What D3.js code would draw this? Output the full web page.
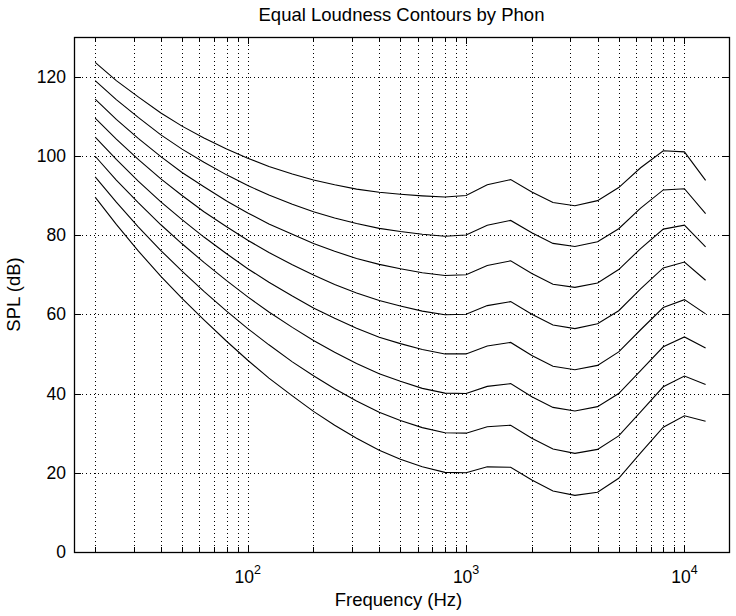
<!DOCTYPE html>
<html>
<head>
<meta charset="utf-8">
<script src="https://cdn.jsdelivr.net/npm/d3@7/dist/d3.min.js"></script>
<style>
	body{margin:0;background:#fff;}
	text{font-family:"Liberation Sans",Arial,sans-serif;fill:#000;}
</style>
</head>
<body>
<div id="chart"></div>
<script>
// ISO 226 frequencies (Hz)
var freqs = [20,25,31.5,40,50,63,80,100,125,160,200,250,315,400,500,630,800,1000,1250,1600,2000,2500,3150,4000,5000,6300,8000,10000,12500];
// SPL (dB) per phon level
var phon20 = [89.6,82.7,76.0,69.6,64.0,58.6,53.2,48.4,43.9,39.4,35.5,32.0,28.7,25.7,23.4,21.5,20.1,20.0,21.5,21.4,18.2,15.4,14.3,15.1,18.6,25.0,31.5,34.4,33.0];
var phon30 = [94.7,88.3,82.1,76.1,70.9,65.8,60.8,56.4,52.3,48.0,44.5,41.2,38.1,35.3,33.2,31.4,30.1,30.0,31.6,32.0,28.7,26.0,24.9,25.9,29.3,35.4,41.7,44.4,42.3];
var phon40 = [99.9,93.9,88.2,82.6,77.8,73.1,68.5,64.4,60.6,56.7,53.4,50.4,47.6,45.0,43.1,41.3,40.1,40.0,41.8,42.5,39.2,36.5,35.6,36.7,40.0,45.8,51.8,54.3,51.5];
var phon50 = [104.7,99.1,93.6,88.4,83.9,79.5,75.3,71.5,68.1,64.6,61.6,59.0,56.5,54.2,52.6,51.1,50.0,50.0,52.0,52.9,49.6,46.9,46.0,47.1,50.5,56.1,61.7,63.7,60.1];
var phon60 = [109.5,104.2,99.1,94.2,90.0,85.9,82.1,78.7,75.6,72.5,69.9,67.5,65.4,63.5,62.1,60.8,59.9,60.0,62.2,63.2,60.0,57.3,56.4,57.6,60.9,66.4,71.7,73.2,68.6];
var phon70 = [114.3,109.2,104.4,99.8,95.8,92.2,88.6,85.6,82.8,80.2,77.9,75.9,74.1,72.6,71.5,70.5,69.8,70.0,72.3,73.5,70.3,67.6,66.8,67.9,71.3,76.6,81.5,82.5,77.0];
var phon80 = [119.0,114.2,109.7,105.3,101.7,98.4,95.2,92.5,90.1,87.8,85.9,84.3,82.9,81.7,80.9,80.2,79.7,80.0,82.5,83.7,80.6,77.9,77.1,78.3,81.6,86.8,91.4,91.7,85.4];
var phon90 = [123.6,119.0,114.9,110.8,107.5,104.5,101.7,99.4,97.3,95.4,93.9,92.7,91.6,90.8,90.3,89.9,89.6,90.0,92.7,94.0,90.9,88.2,87.4,88.7,92.0,97.0,101.3,101.0,93.8];
var yTicks = [0,20,40,60,80,100,120];
var xMajor = [100,1000,10000];

var W = 736, H = 616;
var L = 74, R = 729, T = 37, B = 552;

var svg = d3.select("#chart").append("svg")
	.attr("width",W).attr("height",H);

var x = d3.scaleLog().domain([16,16000]).range([L,R]);
var y = d3.scaleLinear().domain([0,130]).range([B,T]);

var xMinor = x.ticks().filter(function(d){ return d >= 20; });

// grid
var grid = svg.append("g")
	.attr("stroke","#000").attr("stroke-width",1)
	.attr("stroke-dasharray","1,3").attr("shape-rendering","crispEdges");
grid.selectAll("line.vx").data(xMinor).enter().append("line")
	.attr("x1",function(d){ return Math.round(x(d))+0.5; })
	.attr("x2",function(d){ return Math.round(x(d))+0.5; })
	.attr("y1",T).attr("y2",B);
grid.selectAll("line.hy").data(yTicks.filter(function(d){ return d > 0; })).enter().append("line")
	.attr("y1",function(d){ return Math.round(y(d))+0.5; })
	.attr("y2",function(d){ return Math.round(y(d))+0.5; })
	.attr("x1",L).attr("x2",R);

// ticks (inward, all four sides)
var tk = svg.append("g").attr("stroke","#000").attr("stroke-width",1)
	.attr("shape-rendering","crispEdges");
xMinor.forEach(function(d){
	var px = Math.round(x(d))+0.5;
	var len = xMajor.indexOf(d) >= 0 ? 7 : 5;
	tk.append("line").attr("x1",px).attr("x2",px).attr("y1",B).attr("y2",B-len);
	tk.append("line").attr("x1",px).attr("x2",px).attr("y1",T).attr("y2",T+len);
});
yTicks.forEach(function(d){
	var py = Math.round(y(d))+0.5;
	tk.append("line").attr("x1",L).attr("x2",L+7).attr("y1",py).attr("y2",py);
	tk.append("line").attr("x1",R).attr("x2",R-7).attr("y1",py).attr("y2",py);
});

// curves
var series = [phon20,phon30,phon40,phon50,phon60,phon70,phon80,phon90];
var line = d3.line()
	.x(function(d,i){ return x(freqs[i]); })
	.y(function(d){ return y(d); });
svg.append("g").selectAll("path").data(series).enter().append("path")
	.attr("d",line)
	.attr("fill","none").attr("stroke","#000").attr("stroke-width",1.1);

// frame
svg.append("rect").attr("x",L+0.5).attr("y",T+0.5)
	.attr("width",R-L).attr("height",B-T)
	.attr("fill","none").attr("stroke","#000").attr("stroke-width",1.3);

// y tick labels
svg.append("g").selectAll("text").data(yTicks).enter().append("text")
	.attr("x",66).attr("y",function(d){ return y(d)+6; })
	.attr("text-anchor","end").style("font-size","17.5px")
	.text(function(d){ return d; });

// x tick labels 10^n
xMajor.forEach(function(d){
	var t = svg.append("text")
		.attr("x",x(d)).attr("y",583)
		.attr("text-anchor","middle").style("font-size","17.5px");
	t.append("tspan").text("10");
	t.append("tspan").attr("dy",-9).style("font-size","12.5px")
		.text(Math.round(Math.log10(d)));
});

// title and axis labels
svg.append("text").attr("x",(L+R)/2).attr("y",21)
	.attr("text-anchor","middle").style("font-size","18.5px")
	.text("Equal Loudness Contours by Phon");
svg.append("text").attr("x",(L+R)/2 - 3).attr("y",606)
	.attr("text-anchor","middle").style("font-size","18.5px")
	.text("Frequency (Hz)");
svg.append("text")
	.attr("transform","translate(20," + ((T+B)/2) + ") rotate(-90)")
	.attr("text-anchor","middle").style("font-size","18.5px")
	.text("SPL (dB)");
</script>
</body>
</html>
